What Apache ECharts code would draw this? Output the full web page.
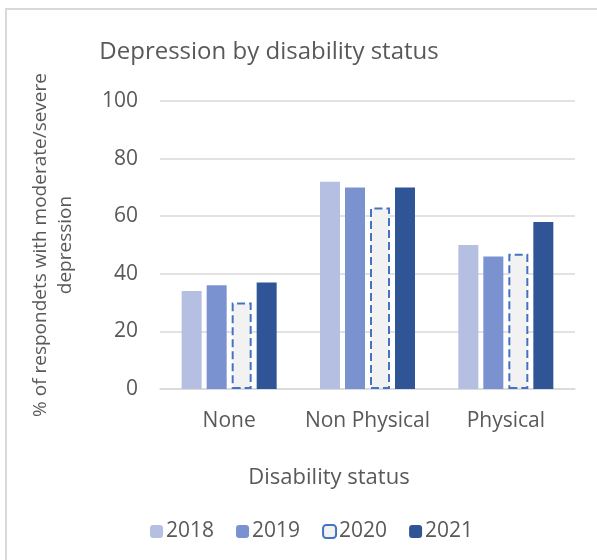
<!DOCTYPE html>
<html>
<head>
<meta charset="utf-8">
<script src="https://cdn.jsdelivr.net/npm/echarts@6/dist/echarts.min.js"></script>
<style>
  html, body { margin: 0; padding: 0; background: #fff; }
  #chart { width: 597px; height: 560px; }
</style>
</head>
<body>
<div id="chart"></div>
<script>
// Share of respondents with moderate/severe depression, by disability status and year
const categories = ['None', 'Non Physical', 'Physical'];
const years = ['2018', '2019', '2020', '2021'];
const values2018 = [34, 72, 50];
const values2019 = [36, 70, 46];
const values2020 = [30, 63, 47];
const values2021 = [37, 70, 58];
const yTicks = { min: 0, max: 100, interval: 20 };

const FONT = '"Open Sans", Lato, sans-serif';
const TEXT = '#595959';
const GRID = '#d9d9d9';

const solidStyle = (color) => ({ color: color });

const seriesData = [values2018, values2019, values2020, values2021];
const seriesStyles = [
  solidStyle('#b4bfe1'),
  solidStyle('#7a93d0'),
  { color: '#f2f2f2', borderColor: '#4472c4', borderWidth: 2, borderType: [8, 4] },
  solidStyle('#2f5597')
];

const chart = echarts.init(document.getElementById('chart'), null, { renderer: 'canvas' });

chart.setOption({
  animation: false,
  backgroundColor: '#fff',
  textStyle: { fontFamily: FONT },
  title: {
    text: 'Depression by disability status',
    left: 264,
    top: 35,
    textAlign: 'center',
    textStyle: { fontFamily: FONT, fontSize: 24, fontWeight: 'normal', color: TEXT }
  },
  legend: {
    top: 516,
    left: 145,
    itemWidth: 13,
    itemHeight: 13,
    itemGap: 22,
    textStyle: { fontFamily: FONT, fontSize: 21, color: TEXT, padding: [0, 0, 0, -2] },
    data: years
  },
  grid: { left: 160, right: 22, top: 101, bottom: 171 },
  xAxis: {
    type: 'category',
    data: categories,
    axisLine: { lineStyle: { color: GRID, width: 1.5 } },
    axisTick: { show: false },
    axisLabel: {
      fontFamily: FONT, fontSize: 21, color: TEXT, margin: 22,
      interval: 0, hideOverlap: false
    }
  },
  yAxis: {
    type: 'value',
    min: yTicks.min,
    max: yTicks.max,
    interval: yTicks.interval,
    name: '% of respondets with moderate/severe\ndepression',
    nameLocation: 'middle',
    nameRotate: 90,
    nameGap: 82,
    nameTextStyle: { fontFamily: FONT, fontSize: 19, color: TEXT, lineHeight: 25 },
    axisLine: { show: false },
    axisTick: { show: false },
    splitLine: { lineStyle: { color: GRID, width: 1.5 } },
    axisLabel: { fontFamily: FONT, fontSize: 21, color: TEXT, margin: 22 }
  },
  graphic: [
    {
      type: 'rect',
      shape: { x: 6, y: 9, width: 800, height: 800 },
      style: { fill: 'none', stroke: '#d9d9d9', lineWidth: 2 },
      silent: true,
      z: -10
    },
    {
      type: 'text',
      x: 329,
      y: 478,
      style: {
        text: 'Disability status',
        fontFamily: FONT,
        fontSize: 22,
        fill: TEXT,
        align: 'center',
        verticalAlign: 'middle'
      }
    }
  ],
  series: years.map((y, i) => ({
    name: y,
    type: 'bar',
    data: seriesData[i],
    barWidth: 20,
    barGap: '25%',
    itemStyle: seriesStyles[i]
  }))
});
</script>
</body>
</html>
